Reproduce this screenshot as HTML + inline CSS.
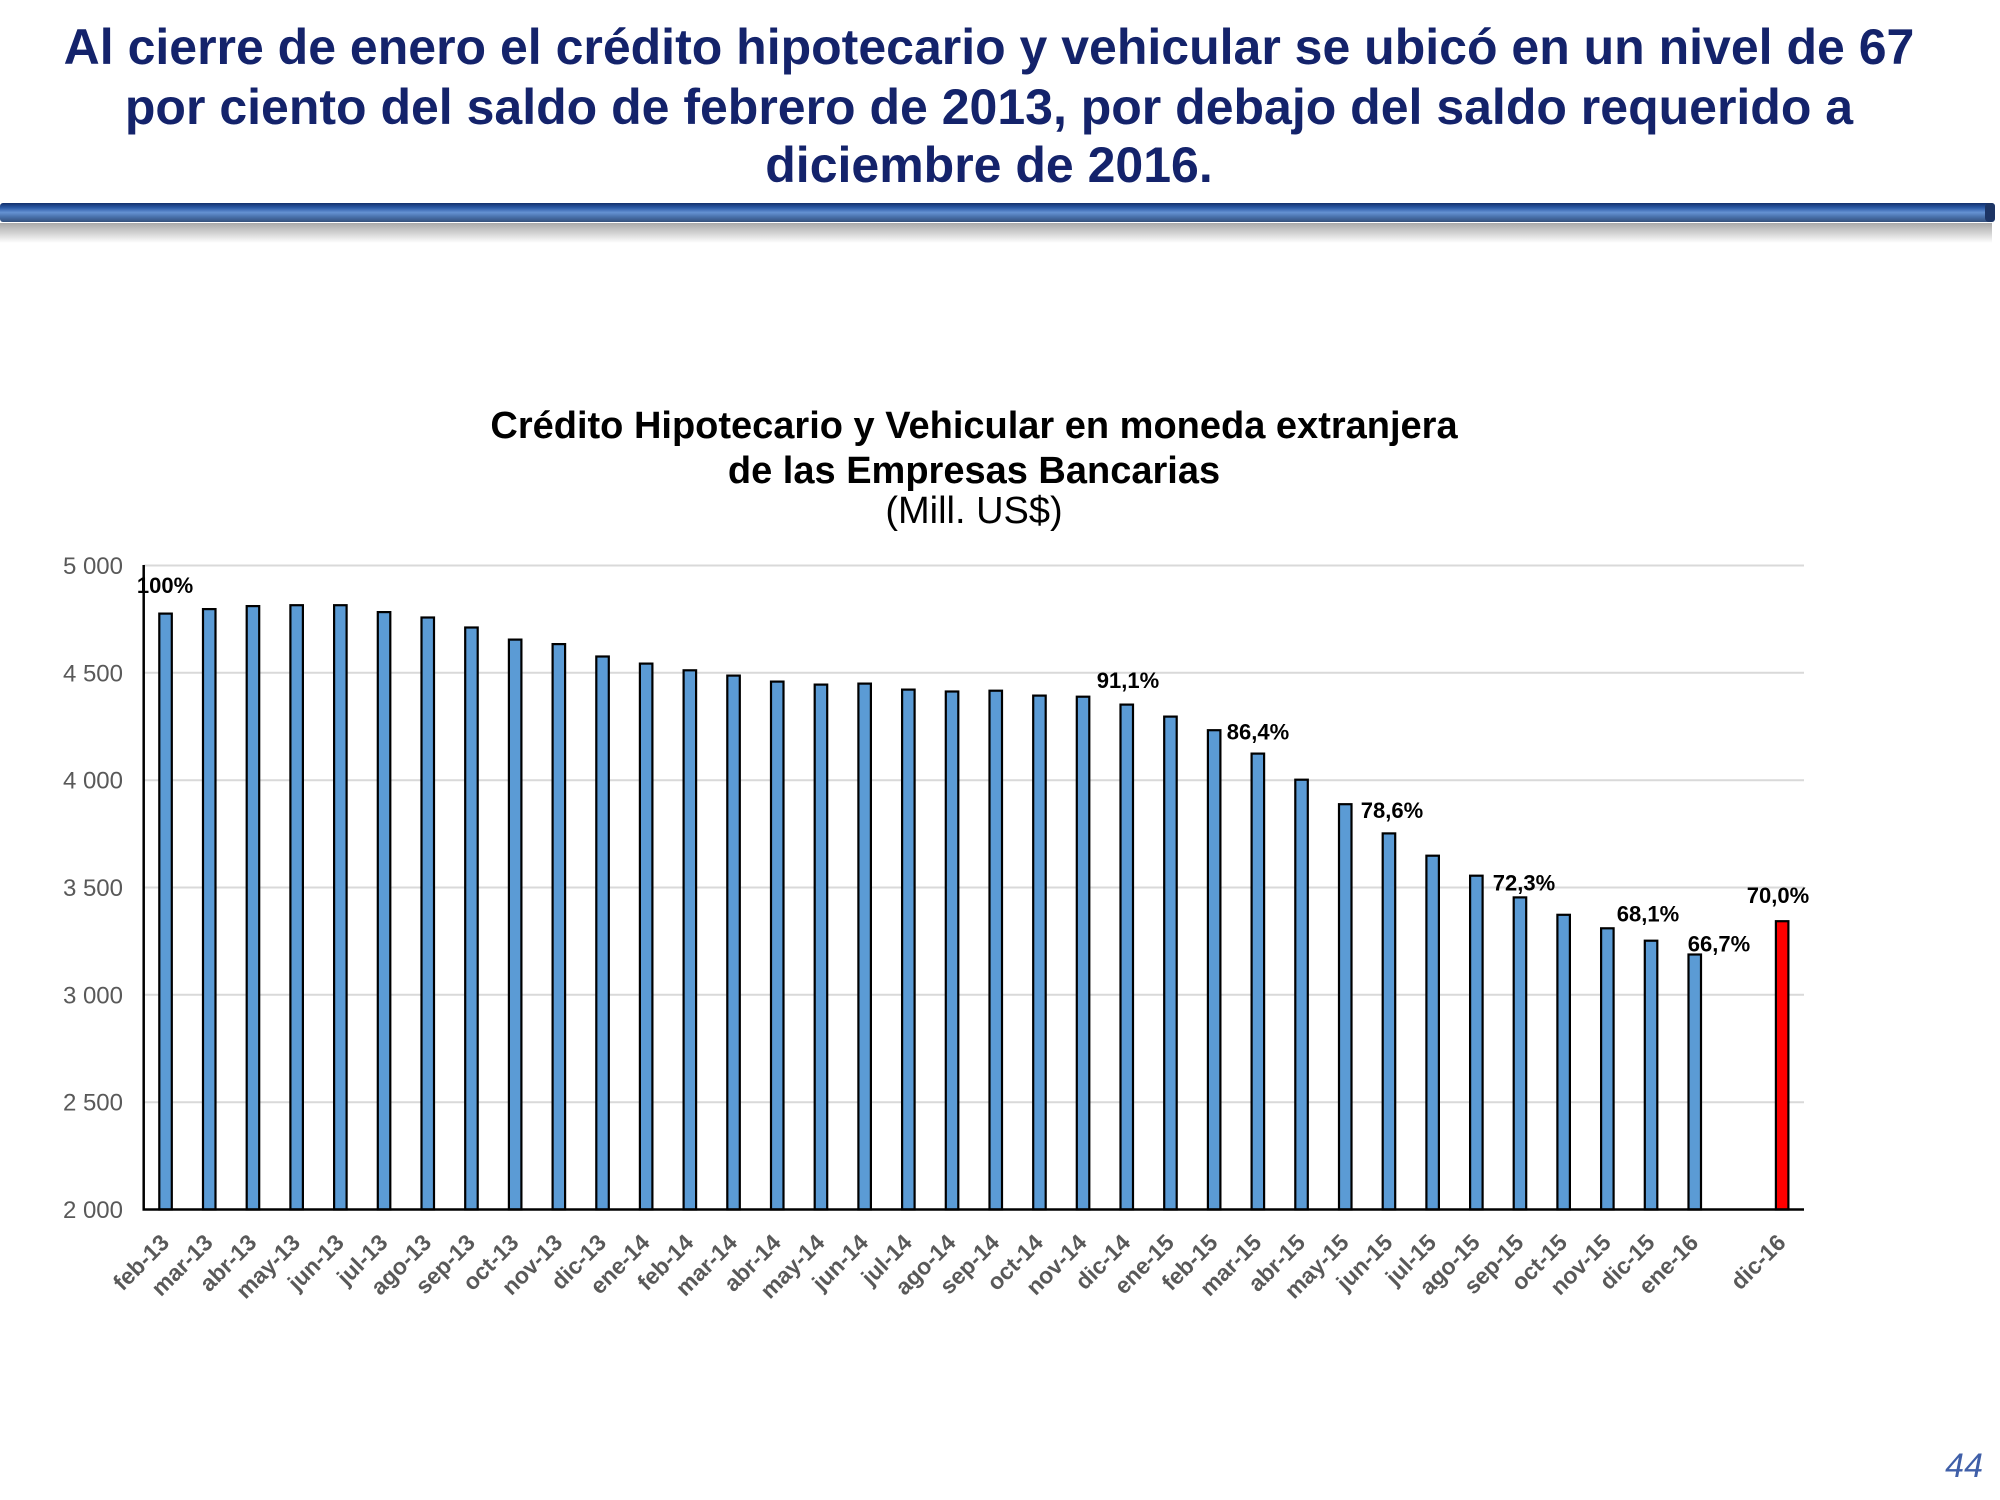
<!DOCTYPE html>
<html><head><meta charset="utf-8"><style>
html,body{margin:0;padding:0;background:#fff;}
svg{display:block;}
</style></head><body>
<svg width="2000" height="1500" viewBox="0 0 2000 1500" xmlns="http://www.w3.org/2000/svg" font-family="'Liberation Sans', Arial, sans-serif">
<defs>
<linearGradient id="hb" x1="0" y1="0" x2="0" y2="1">
<stop offset="0" stop-color="#12306c"/>
<stop offset="0.25" stop-color="#2b5aa6"/>
<stop offset="0.5" stop-color="#6592d2"/>
<stop offset="0.72" stop-color="#4a72ad"/>
<stop offset="1" stop-color="#34507c"/>
</linearGradient>
<linearGradient id="sh" x1="0" y1="0" x2="0" y2="1">
<stop offset="0" stop-color="#a9a9a9"/>
<stop offset="0.5" stop-color="#d2d2d2"/>
<stop offset="1" stop-color="#ffffff"/>
</linearGradient>
</defs>
<rect width="2000" height="1500" fill="#fff"/>
<!-- Main title -->
<g fill="#14236b" font-weight="bold" font-size="50" text-anchor="middle">
<text x="989" y="64">Al cierre de enero el crédito hipotecario y vehicular se ubicó en un nivel de 67</text>
<text x="989" y="124">por ciento del saldo de febrero de 2013, por debajo del saldo requerido a</text>
<text x="989" y="182">diciembre de 2016.</text>
</g>
<!-- header bar -->
<rect x="0" y="223" width="1992" height="20" fill="url(#sh)"/>
<rect x="0" y="203" width="1995" height="19" rx="3" fill="url(#hb)"/>
<rect x="1985" y="203" width="10" height="19" rx="4" fill="#1d3565"/>
<!-- chart title -->
<g fill="#000" font-size="38" text-anchor="middle">
<text x="974" y="438" font-weight="bold">Crédito Hipotecario y Vehicular en moneda extranjera</text>
<text x="974" y="483" font-weight="bold">de las Empresas Bancarias</text>
<text x="974" y="523">(Mill. US$)</text>
</g>
<!-- gridlines -->
<g stroke="#d9d9d9" stroke-width="2">
<line x1="143.7" y1="565.5" x2="1804" y2="565.5"/>
<line x1="143.7" y1="672.8" x2="1804" y2="672.8"/>
<line x1="143.7" y1="780.2" x2="1804" y2="780.2"/>
<line x1="143.7" y1="887.5" x2="1804" y2="887.5"/>
<line x1="143.7" y1="994.8" x2="1804" y2="994.8"/>
<line x1="143.7" y1="1102.2" x2="1804" y2="1102.2"/>
</g>
<!-- y tick labels -->
<g fill="#595959" font-size="24" text-anchor="end">
<text x="123" y="574">5 000</text>
<text x="123" y="681.3">4 500</text>
<text x="123" y="788.7">4 000</text>
<text x="123" y="896">3 500</text>
<text x="123" y="1003.3">3 000</text>
<text x="123" y="1110.7">2 500</text>
<text x="123" y="1218">2 000</text>
</g>
<!-- bars -->
<g fill="#5b9bd5" stroke="#000" stroke-width="2.2">
<rect x="159.3" y="613.6" width="12.5" height="595.9"/>
<rect x="203.0" y="609.1" width="12.5" height="600.4"/>
<rect x="246.7" y="606.1" width="12.5" height="603.4"/>
<rect x="290.4" y="605.2" width="12.5" height="604.3"/>
<rect x="334.1" y="605.2" width="12.5" height="604.3"/>
<rect x="377.8" y="612.1" width="12.5" height="597.4"/>
<rect x="421.5" y="617.5" width="12.5" height="592.0"/>
<rect x="465.2" y="627.5" width="12.5" height="582.0"/>
<rect x="508.9" y="639.6" width="12.5" height="569.9"/>
<rect x="552.6" y="644.1" width="12.5" height="565.4"/>
<rect x="596.3" y="656.5" width="12.5" height="553.0"/>
<rect x="639.9" y="663.6" width="12.5" height="545.9"/>
<rect x="683.6" y="670.3" width="12.5" height="539.2"/>
<rect x="727.3" y="675.6" width="12.5" height="533.9"/>
<rect x="771.0" y="681.6" width="12.5" height="527.9"/>
<rect x="814.7" y="684.6" width="12.5" height="524.9"/>
<rect x="858.4" y="683.6" width="12.5" height="525.9"/>
<rect x="902.1" y="689.6" width="12.5" height="519.9"/>
<rect x="945.8" y="691.5" width="12.5" height="518.0"/>
<rect x="989.5" y="690.7" width="12.5" height="518.8"/>
<rect x="1033.2" y="695.6" width="12.5" height="513.9"/>
<rect x="1076.8" y="696.7" width="12.5" height="512.8"/>
<rect x="1120.5" y="704.6" width="12.5" height="504.9"/>
<rect x="1164.2" y="716.6" width="12.5" height="492.9"/>
<rect x="1207.9" y="730.2" width="12.5" height="479.3"/>
<rect x="1251.6" y="753.6" width="12.5" height="455.9"/>
<rect x="1295.3" y="779.7" width="12.5" height="429.8"/>
<rect x="1339.0" y="804.2" width="12.5" height="405.3"/>
<rect x="1382.7" y="833.4" width="12.5" height="376.1"/>
<rect x="1426.4" y="855.7" width="12.5" height="353.8"/>
<rect x="1470.1" y="875.7" width="12.5" height="333.8"/>
<rect x="1513.7" y="897.4" width="12.5" height="312.1"/>
<rect x="1557.4" y="914.8" width="12.5" height="294.7"/>
<rect x="1601.1" y="928.3" width="12.5" height="281.2"/>
<rect x="1644.8" y="940.7" width="12.5" height="268.8"/>
<rect x="1688.5" y="954.5" width="12.5" height="255.0"/>
<rect x="1775.9" y="921.2" width="12.5" height="288.3" fill="#ff0000"/>
</g>
<!-- axes -->
<line x1="143.7" y1="565" x2="143.7" y2="1210.5" stroke="#000" stroke-width="2.5"/>
<line x1="142.5" y1="1209.5" x2="1804" y2="1209.5" stroke="#000" stroke-width="2.5"/>
<!-- data labels -->
<g fill="#000" font-size="22" font-weight="bold" text-anchor="middle">
<text x="165" y="593">100%</text>
<text x="1128" y="688">91,1%</text>
<text x="1258" y="739.5">86,4%</text>
<text x="1392" y="818">78,6%</text>
<text x="1524" y="890.5">72,3%</text>
<text x="1648" y="921.5">68,1%</text>
<text x="1719" y="951.5">66,7%</text>
<text x="1778" y="903">70,0%</text>
</g>
<!-- x labels -->
<g fill="#595959" font-size="23" font-weight="bold" text-anchor="end">
<text transform="translate(170.5,1244) rotate(-45)">feb-13</text>
<text transform="translate(214.2,1244) rotate(-45)">mar-13</text>
<text transform="translate(257.9,1244) rotate(-45)">abr-13</text>
<text transform="translate(301.6,1244) rotate(-45)">may-13</text>
<text transform="translate(345.3,1244) rotate(-45)">jun-13</text>
<text transform="translate(389.0,1244) rotate(-45)">jul-13</text>
<text transform="translate(432.7,1244) rotate(-45)">ago-13</text>
<text transform="translate(476.4,1244) rotate(-45)">sep-13</text>
<text transform="translate(520.1,1244) rotate(-45)">oct-13</text>
<text transform="translate(563.8,1244) rotate(-45)">nov-13</text>
<text transform="translate(607.5,1244) rotate(-45)">dic-13</text>
<text transform="translate(651.1,1244) rotate(-45)">ene-14</text>
<text transform="translate(694.8,1244) rotate(-45)">feb-14</text>
<text transform="translate(738.5,1244) rotate(-45)">mar-14</text>
<text transform="translate(782.2,1244) rotate(-45)">abr-14</text>
<text transform="translate(825.9,1244) rotate(-45)">may-14</text>
<text transform="translate(869.6,1244) rotate(-45)">jun-14</text>
<text transform="translate(913.3,1244) rotate(-45)">jul-14</text>
<text transform="translate(957.0,1244) rotate(-45)">ago-14</text>
<text transform="translate(1000.7,1244) rotate(-45)">sep-14</text>
<text transform="translate(1044.4,1244) rotate(-45)">oct-14</text>
<text transform="translate(1088.0,1244) rotate(-45)">nov-14</text>
<text transform="translate(1131.7,1244) rotate(-45)">dic-14</text>
<text transform="translate(1175.4,1244) rotate(-45)">ene-15</text>
<text transform="translate(1219.1,1244) rotate(-45)">feb-15</text>
<text transform="translate(1262.8,1244) rotate(-45)">mar-15</text>
<text transform="translate(1306.5,1244) rotate(-45)">abr-15</text>
<text transform="translate(1350.2,1244) rotate(-45)">may-15</text>
<text transform="translate(1393.9,1244) rotate(-45)">jun-15</text>
<text transform="translate(1437.6,1244) rotate(-45)">jul-15</text>
<text transform="translate(1481.3,1244) rotate(-45)">ago-15</text>
<text transform="translate(1524.9,1244) rotate(-45)">sep-15</text>
<text transform="translate(1568.6,1244) rotate(-45)">oct-15</text>
<text transform="translate(1612.3,1244) rotate(-45)">nov-15</text>
<text transform="translate(1656.0,1244) rotate(-45)">dic-15</text>
<text transform="translate(1699.7,1244) rotate(-45)">ene-16</text>
<text transform="translate(1787.1,1244) rotate(-45)">dic-16</text>
</g>
<!-- page number -->
<text x="1983" y="1477" fill="#3f5fa8" font-size="34" font-style="italic" text-anchor="end">44</text>
</svg>
</body></html>
